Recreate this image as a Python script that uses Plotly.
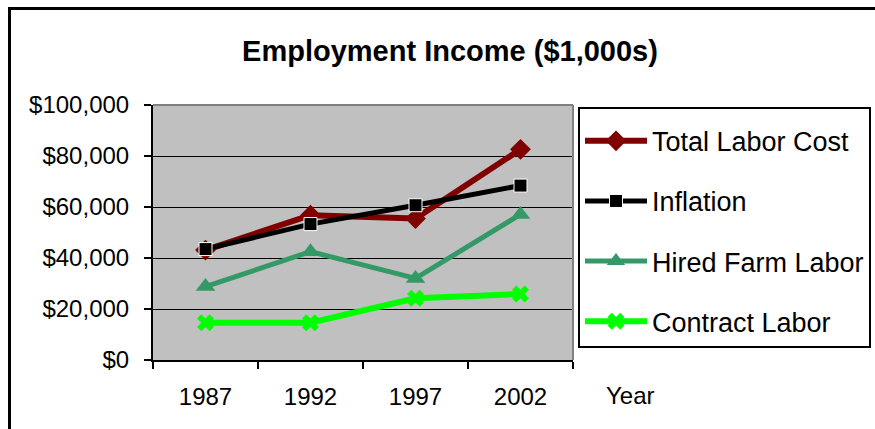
import plotly.graph_objects as go

years = ["1987", "1992", "1997", "2002"]
total_labor_cost = [43100, 56800, 55500, 82600]
inflation = [43500, 53300, 60700, 68400]
hired_farm_labor = [28800, 42500, 32000, 57100]
contract_labor = [14600, 14600, 24200, 25900]

series = [
    ("Total Labor Cost", total_labor_cost, "#800000", "diamond", 16, 6),
    ("Inflation", inflation, "#000000", "square", 13, 5),
    ("Hired Farm Labor", hired_farm_labor, "#339966", "triangle-up", 17, 5),
    ("Contract Labor", contract_labor, "#00FF00", "x", 15, 6),
]

FONT = "Liberation Sans, Arial, sans-serif"

fig = go.Figure()
for i, (name, vals, col, sym, msize, lw) in enumerate(series):
    mline = dict(color="white", width=1) if name == "Inflation" else dict(color=col, width=0)
    fig.add_trace(go.Scatter(
        x=years, y=vals, name=name, mode="lines+markers",
        line=dict(color=col, width=lw),
        marker=dict(symbol=sym, size=msize, color=col, line=mline),
        legendgroup=f"g{i}",
    ))

W, H = 875, 429
L, R, T, B = 153, 573, 105, 360
pw, ph = R - L, B - T

def px(x):
    return (x - L) / pw

def py(y):
    return (B - y) / ph

fig.update_layout(
    template="none",
    width=W, height=H,
    margin=dict(l=L, r=W - R, t=T, b=H - B, pad=0, autoexpand=False),
    paper_bgcolor="white",
    plot_bgcolor="#C0C0C0",
    font=dict(family=FONT, color="black", size=23),
    title=dict(text="<b>Employment Income ($1,000s)</b>", x=450 / W, xanchor="center",
               y=1 - 51 / H, yanchor="middle", font=dict(size=29, family=FONT)),
    showlegend=True,
    legend=dict(
        x=px(578), xanchor="left", y=py(107), yanchor="top",
        bgcolor="white", bordercolor="black", borderwidth=2,
        font=dict(size=27, family=FONT),
        traceorder="grouped", tracegroupgap=22,
        itemwidth=62,
        title=dict(text="&nbsp;", font=dict(size=6)),
    ),
    xaxis=dict(
        type="category", range=[-0.5, 3.5], showgrid=False, showline=True,
        linecolor="black", linewidth=2, automargin=False,
        ticks="outside", ticklen=7, tickwidth=2, tickcolor="black",
        tickson="boundaries", ticklabelstandoff=14,
        tickfont=dict(size=24, family=FONT),
    ),
    yaxis=dict(
        range=[0, 100000], dtick=20000, tickprefix="$", tickformat=",d",
        showgrid=True, gridcolor="black", gridwidth=1, automargin=False,
        showline=True, linecolor="black", linewidth=2, zeroline=False,
        ticks="outside", ticklen=7, tickwidth=2, tickcolor="black",
        ticklabelstandoff=10,
        tickfont=dict(size=24, family=FONT),
    ),
    shapes=[
        dict(type="line", xref="paper", yref="paper", x0=0, x1=1, y0=1, y1=1,
             line=dict(color="#808080", width=2), layer="above"),
        dict(type="line", xref="paper", yref="paper", x0=1, x1=1, y0=0, y1=1,
             line=dict(color="#808080", width=2), layer="above"),
        dict(type="rect", xref="paper", yref="paper",
             x0=px(9.5), x1=px(900), y0=py(450), y1=py(8.5),
             line=dict(color="black", width=3), fillcolor="rgba(0,0,0,0)", layer="above"),
    ],
    annotations=[
        dict(text="Year", xref="paper", yref="paper", x=px(604), y=py(395),
             xanchor="left", yanchor="middle", showarrow=False,
             font=dict(size=24, family=FONT)),
    ],
)

fig.write_html("out.html", config={"displayModeBar": False},
               post_script="document.body.style.margin='0';")
